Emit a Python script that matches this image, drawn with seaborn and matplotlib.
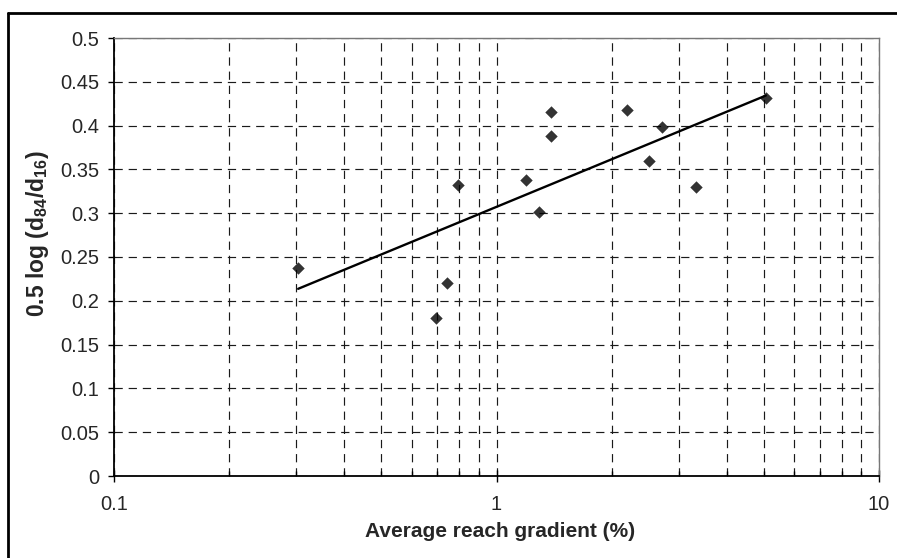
import matplotlib
matplotlib.use("Agg")
import matplotlib.pyplot as plt
from matplotlib.lines import Line2D
import seaborn as sns
import pandas as pd

# Reach gradient (%) and sorting index 0.5 log(d84/d16) for each surveyed reach
gradient = [0.303, 0.695, 0.743, 0.795, 1.194, 1.29, 1.388, 1.388, 2.19, 2.50, 2.71, 3.32, 5.06]
sorting = [0.238, 0.180, 0.220, 0.332, 0.3375, 0.301, 0.415, 0.3885, 0.4175, 0.360, 0.398, 0.330, 0.431]

y_ticks = [0, 0.05, 0.1, 0.15, 0.2, 0.25, 0.3, 0.35, 0.4, 0.45, 0.5]
y_tick_labels = ["0", "0.05", "0.1", "0.15", "0.2", "0.25", "0.3", "0.35", "0.4", "0.45", "0.5"]
x_ticks = [0.1, 1, 10]
x_tick_labels = ["0.1", "1", "10"]

df = pd.DataFrame({"gradient": gradient, "sorting": sorting})

sns.set_style("white")
plt.rcParams["font.family"] = ["Liberation Sans", "DejaVu Sans"]
plt.rcParams["mathtext.fontset"] = "custom"
plt.rcParams["mathtext.rm"] = "Liberation Sans"
plt.rcParams["mathtext.bf"] = "Liberation Sans:bold"

fig = plt.figure(figsize=(8.97, 5.58), dpi=100)
ax = fig.add_axes([114 / 897, 1 - 476 / 558, 765 / 897, 438 / 558])
ax.set_xscale("log")

sns.regplot(
    data=df, x="gradient", y="sorting", ax=ax,
    logx=True, ci=None, truncate=True, marker="D", color="black",
    scatter_kws={"s": 40, "linewidths": 0, "zorder": 4},
    line_kws={"lw": 1.7, "zorder": 3},
)

ax.set_xlim(0.1, 10)
ax.set_ylim(0, 0.5)
ax.set_yticks(y_ticks)
ax.set_yticklabels(y_tick_labels)
ax.set_xticks(x_ticks)
ax.set_xticklabels(x_tick_labels)
ax.xaxis.set_minor_locator(matplotlib.ticker.LogLocator(base=10, subs=range(2, 10)))
ax.xaxis.set_minor_formatter(matplotlib.ticker.NullFormatter())

# dashed grid
grid_kw = dict(color="#1a1a1a", lw=0.85, linestyle=(0, (7, 5)))
ax.grid(True, which="major", axis="both", **grid_kw)
ax.grid(True, which="minor", axis="x", **grid_kw)
ax.set_axisbelow(True)

ax.tick_params(axis="y", which="major", direction="out", length=4.5, width=1,
               color="black", pad=6, labelsize=14.5, left=True)
ax.tick_params(axis="x", which="major", direction="inout", length=8, width=1,
               color="black", pad=10, labelsize=14.5, bottom=True)
ax.tick_params(axis="x", which="minor", direction="in", length=3.5, width=1,
               color="black", bottom=True)

for side in ("left", "bottom"):
    ax.spines[side].set_color("black")
    ax.spines[side].set_linewidth(1.3)
for side in ("top", "right"):
    ax.spines[side].set_color("#777777")
    ax.spines[side].set_linewidth(1.0)

ax.set_xlabel("Average reach gradient (%)", fontsize=15, fontweight="bold", va="top")
ax.xaxis.set_label_coords(0.505, -0.105)
ax.set_ylabel(r"0.5 log (d$_{\mathbf{84}}$/d$_{\mathbf{16}}$)", fontsize=16.5,
              fontweight="bold", va="center")
ax.yaxis.set_label_coords(-0.100, 0.553)

# outer chart frame
frame_kw = dict(color="black", lw=2.0, transform=fig.transFigure, clip_on=False)
fig.add_artist(Line2D([8 / 897, 1.0], [1 - 13 / 558, 1 - 13 / 558], **frame_kw))
fig.add_artist(Line2D([8 / 897, 8 / 897], [0.0, 1 - 13 / 558], **frame_kw))

fig.savefig("out.png", dpi=100)
